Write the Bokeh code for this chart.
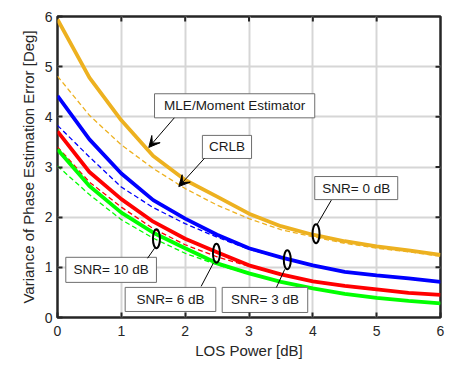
from bokeh.plotting import figure
from bokeh.models import Range1d, FixedTicker, Arrow, VeeHead
from bokeh.core.properties import value
from bokeh.embed import file_html
from bokeh.resources import INLINE

# ---- data ----
los_db = [0, 0.5, 1, 1.5, 2, 2.5, 3, 3.5, 4, 4.5, 5, 5.5, 6]
mle_snr0 = [5.94, 4.78, 3.93, 3.22, 2.74, 2.41, 2.07, 1.82, 1.65, 1.52, 1.42, 1.34, 1.25]
crlb_snr0 = [4.81, 4.03, 3.44, 2.97, 2.57, 2.24, 1.97, 1.75, 1.61, 1.48, 1.38, 1.31, 1.22]
mle_snr3 = [4.42, 3.55, 2.87, 2.34, 1.97, 1.65, 1.38, 1.20, 1.04, 0.91, 0.84, 0.78, 0.71]
crlb_snr3 = [3.83, 3.20, 2.60, 2.19, 1.87, 1.60, 1.36, 1.19, 1.03, 0.90, 0.83, 0.77, 0.70]
mle_snr6 = [3.71, 2.90, 2.36, 1.91, 1.57, 1.30, 1.04, 0.86, 0.72, 0.63, 0.56, 0.49, 0.45]
crlb_snr6 = [3.40, 2.70, 2.20, 1.77, 1.45, 1.21, 1.02, 0.85, 0.71, 0.62, 0.55, 0.49, 0.44]
mle_snr10 = [3.35, 2.62, 2.09, 1.69, 1.38, 1.08, 0.88, 0.71, 0.58, 0.47, 0.39, 0.33, 0.28]
crlb_snr10 = [3.02, 2.45, 1.95, 1.58, 1.28, 1.05, 0.87, 0.70, 0.57, 0.46, 0.39, 0.33, 0.28]

series_colors = ["#EDB120", "#0000FF", "#FF0000", "#00FF00"]
ticks = [0, 1, 2, 3, 4, 5, 6]

FONT = "Liberation Sans"
TXT = "#262626"

p = figure(width=474, height=366, output_backend="svg", toolbar_location=None,
           x_range=Range1d(0, 6), y_range=Range1d(0, 6),
           min_border_left=57, min_border_right=34, min_border_top=16, min_border_bottom=49)
p.background_fill_color = "white"
p.border_fill_color = "white"
p.outline_line_color = "#262626"
p.outline_line_width = 2.5

for ax in (p.xaxis[0], p.yaxis[0]):
    ax.ticker = FixedTicker(ticks=ticks)
    ax.major_tick_in = 5
    ax.major_tick_out = 0
    ax.minor_tick_in = 0
    ax.minor_tick_out = 0
    ax.major_tick_line_color = "#262626"
    ax.major_tick_line_width = 2
    ax.axis_line_color = None
    ax.major_label_text_font = FONT
    ax.major_label_text_font_size = "14px"
    ax.major_label_text_color = TXT
    ax.axis_label_text_font = FONT
    ax.axis_label_text_font_size = "15px"
    ax.axis_label_text_font_style = "normal"
    ax.axis_label_text_color = TXT

p.xaxis.axis_label = "LOS Power [dB]"
p.yaxis.axis_label = "Variance of Phase Estimation Error [Deg]"
p.xaxis.major_label_standoff = 8
p.xaxis.axis_label_standoff = 3
p.yaxis.major_label_standoff = 5
p.yaxis.axis_label_standoff = 5

p.grid.ticker = FixedTicker(ticks=ticks)
p.grid.grid_line_color = "#d6d6d6"
p.grid.grid_line_width = 2

# mirrored inward ticks on top and right edges
inner = ticks[1:-1]
p.segment(x0=inner, y0=[6] * len(inner), x1=inner, y1=[5.9] * len(inner),
          line_color="#262626", line_width=2)
p.segment(x0=[6] * len(inner), y0=inner, x1=[5.922] * len(inner), y1=inner,
          line_color="#262626", line_width=2)

mles = [mle_snr0, mle_snr3, mle_snr6, mle_snr10]
crlbs = [crlb_snr0, crlb_snr3, crlb_snr6, crlb_snr10]
for ys, c in zip(crlbs, series_colors):
    p.line(los_db, ys, line_color=c, line_width=1.3, line_dash="5 3")
for ys, c in zip(mles, series_colors):
    p.line(los_db, ys, line_color=c, line_width=3.8)

# ---- annotations ----
boxes = [
    ("MLE/Moment Estimator", 1.52, 4.03, 3.98, 4.46),
    ("CRLB", 2.27, 3.04, 3.17, 3.63),
    ("SNR= 0 dB", 4.03, 5.33, 2.35, 2.81),
    ("SNR= 10 dB", 0.13, 1.55, 0.70, 1.20),
    ("SNR= 6 dB", 1.06, 2.48, 0.12, 0.60),
    ("SNR= 3 dB", 2.58, 3.92, 0.10, 0.60),
]
for t, x0, x1, y0, y1 in boxes:
    p.quad(left=[x0], right=[x1], bottom=[y0], top=[y1], fill_color="white",
           line_color="#6e6e6e", line_width=1)
    p.text(x=[(x0 + x1) / 2], y=[(y0 + y1) / 2], text=[t], text_align="center",
           text_baseline="middle", text_font=value(FONT), text_font_size="13.5px",
           text_color="#1a1a1a")

arrows = [(1.83, 3.98, 1.43, 3.39), (2.30, 3.17, 1.90, 2.61)]
for xs, ys, xe, ye in arrows:
    p.add_layout(Arrow(x_start=xs, y_start=ys, x_end=xe, y_end=ye,
                       line_color="black", line_width=1,
                       end=VeeHead(size=11, fill_color="black", line_color="black",
                                   line_width=1)))

# ellipses with leader lines
ell = [(4.05, 1.67, 4.29, 2.34, 4.07, 1.86),
       (1.55, 1.57, 1.41, 1.18, 1.52, 1.38),
       (2.49, 1.28, 2.25, 0.62, 2.44, 1.08),
       (3.60, 1.15, 3.43, 0.60, 3.56, 0.96)]
for cx, cy, lx0, ly0, lx1, ly1 in ell:
    p.segment(x0=[lx0], y0=[ly0], x1=[lx1], y1=[ly1], line_color="black", line_width=1)
    p.ellipse(x=[cx], y=[cy], width=7, height=19, width_units="screen",
              height_units="screen", fill_color=None, line_color="black", line_width=2)

open("out.html", "w").write(file_html(p, INLINE))
